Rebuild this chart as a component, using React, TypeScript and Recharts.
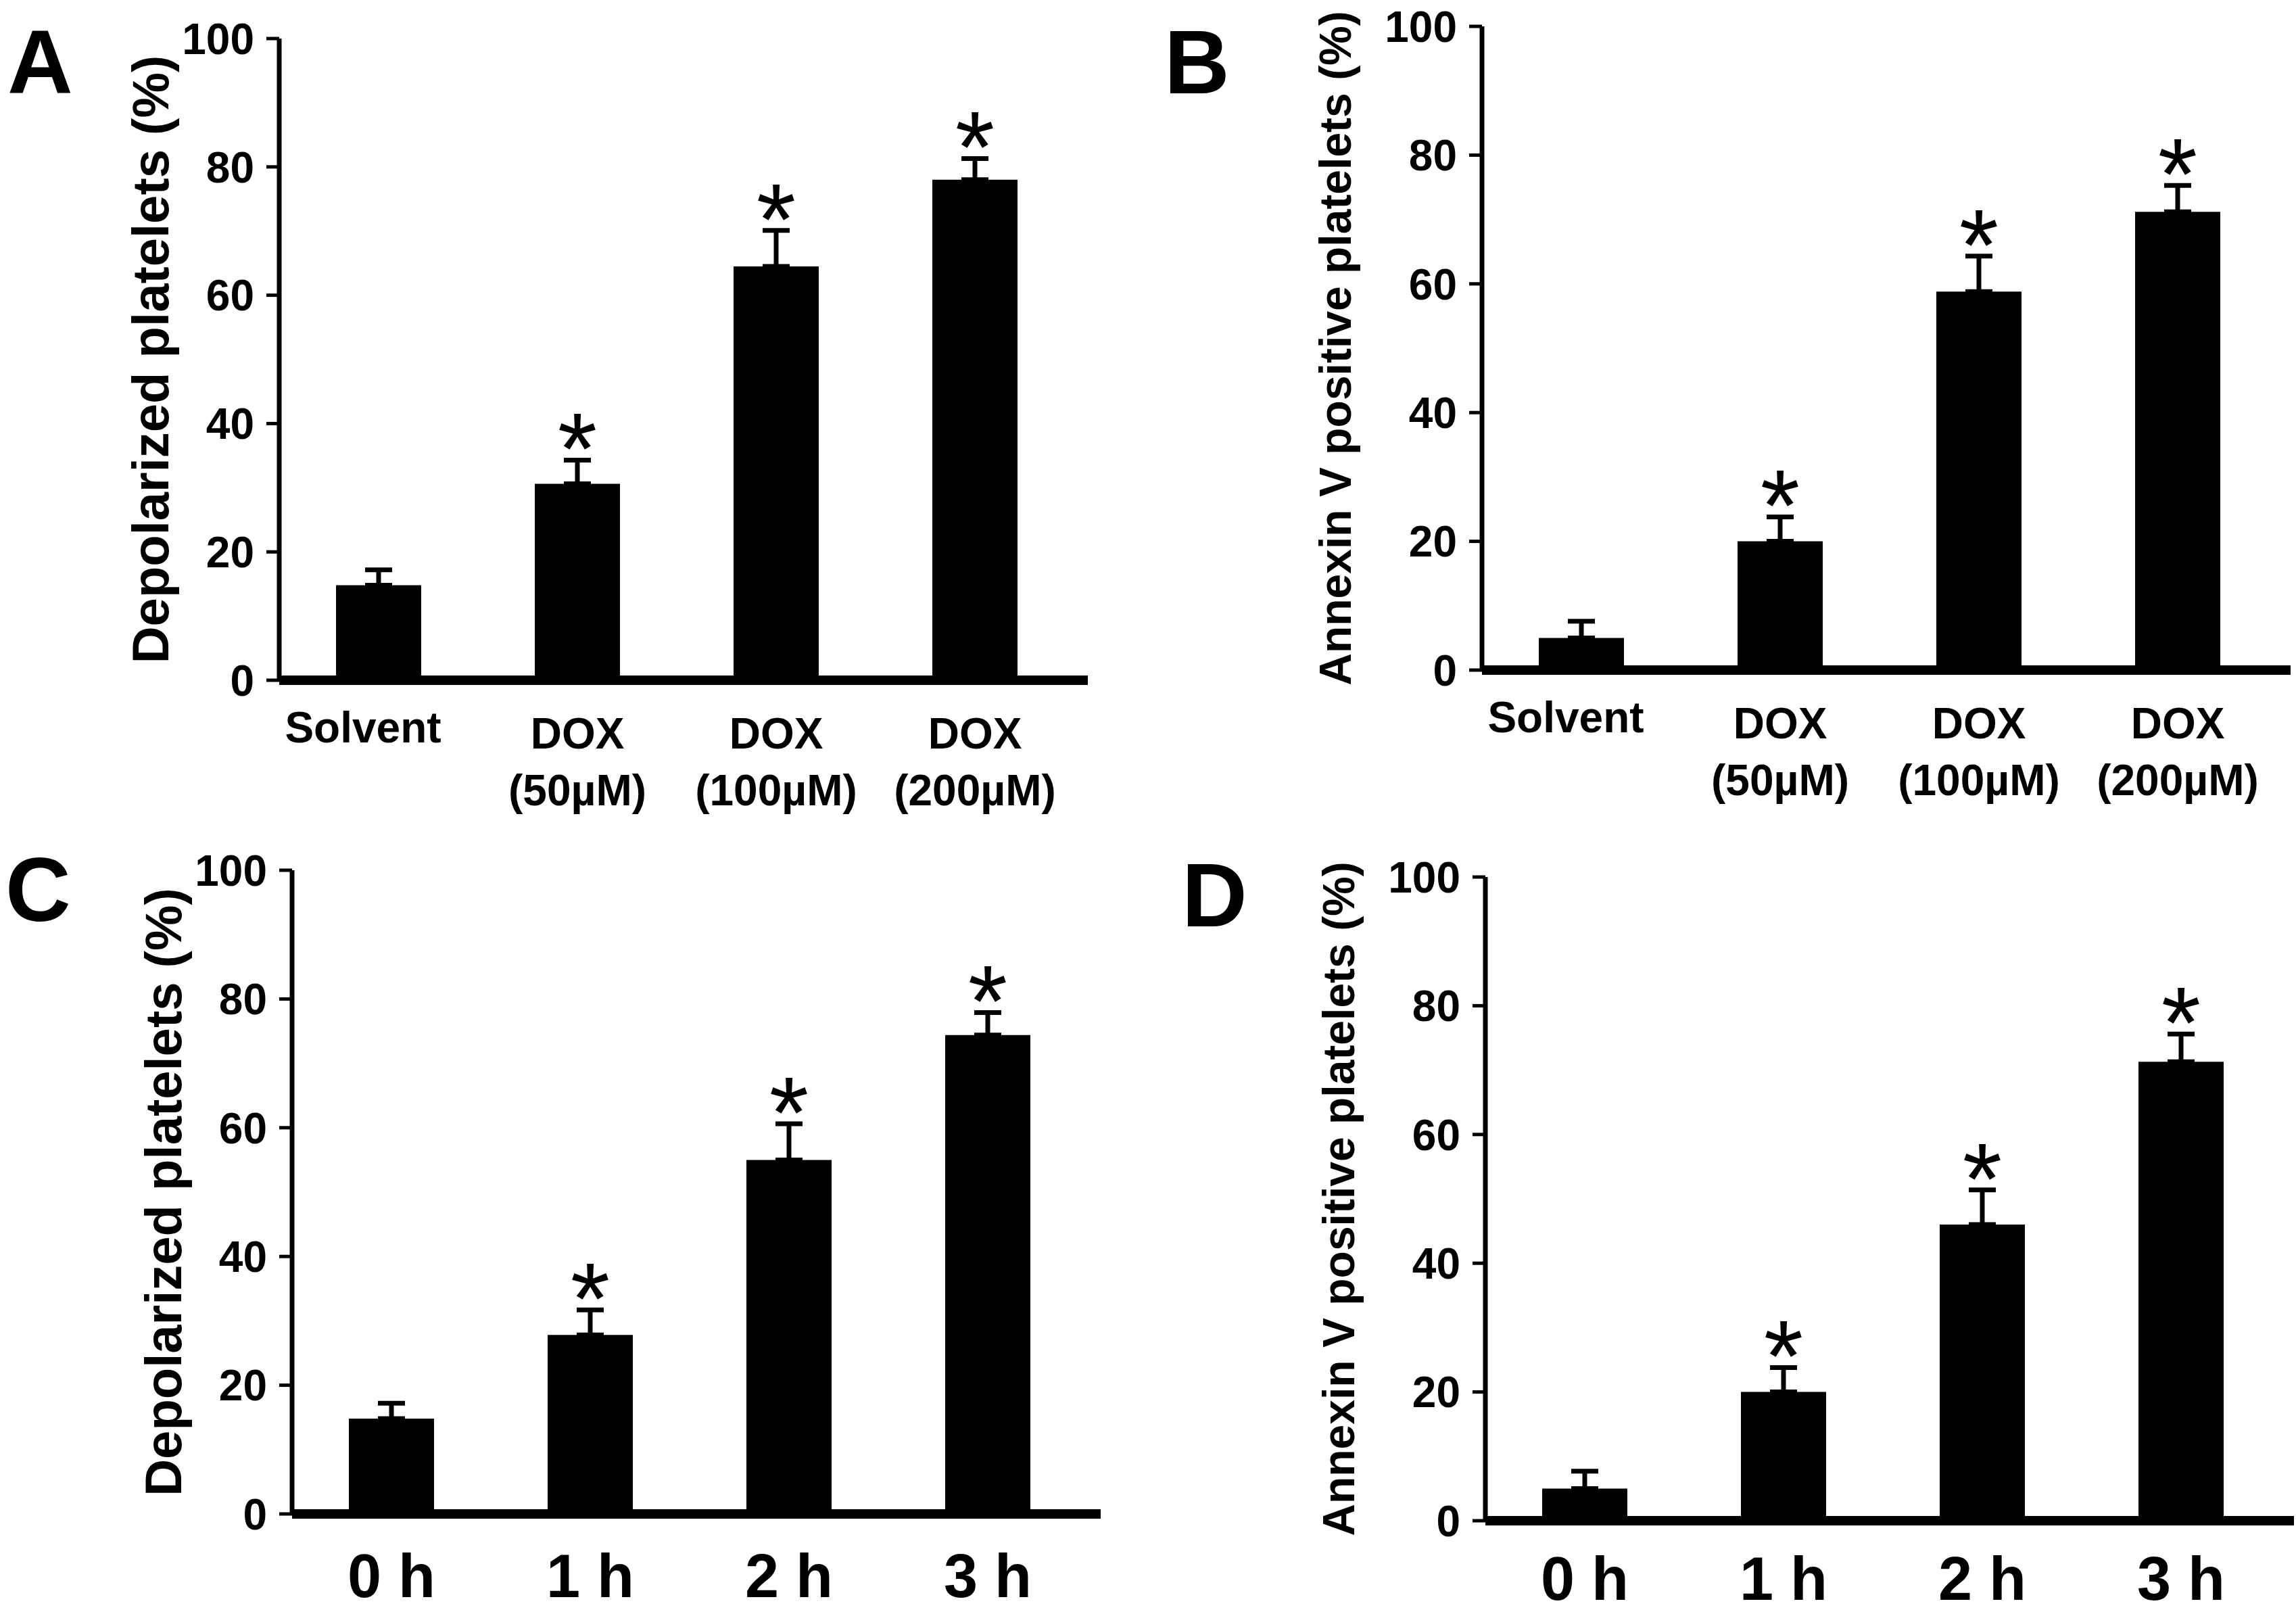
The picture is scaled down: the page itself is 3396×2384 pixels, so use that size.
import React from 'react';
import { BarChart, Bar, XAxis, YAxis, ErrorBar, LabelList, Label } from 'recharts';

// category / tick labels
const doseLabels = ['Solvent', 'DOX\n(50µM)', 'DOX\n(100µM)', 'DOX\n(200µM)'];
const timeLabels = ['0 h', '1 h', '2 h', '3 h'];
const yTicks = [0, 20, 40, 60, 80, 100];
const significant = [false, true, true, true];

// A: depolarized platelets vs. dose
const depolDoseMean = [14.8, 30.6, 64.5, 78.0];
const depolDoseSem = [2.4, 3.7, 5.6, 3.3];
// B: annexin V positive platelets vs. dose
const annexinDoseMean = [5.0, 20.0, 58.8, 71.2];
const annexinDoseSem = [2.6, 3.8, 5.5, 4.1];
// C: depolarized platelets vs. time
const depolTimeMean = [14.8, 27.8, 55.0, 74.4];
const depolTimeSem = [2.4, 3.9, 5.6, 3.5];
// D: annexin V positive platelets vs. time
const annexinTimeMean = [5.0, 20.0, 46.0, 71.3];
const annexinTimeSem = [2.7, 3.8, 5.4, 4.3];

const FONT = "'Liberation Sans', Arial, Helvetica, sans-serif";

const makeRows = (labels: string[], mean: number[], sem: number[]) =>
  labels.map((name, i) => ({ name, value: mean[i], err: [0, sem[i]] }));

// asterisk drawn above the error bar of significant groups
const makeStar = (mean: number[], sem: number[]) => (props: any) => {
  const { index } = props;
  if (!significant[index]) return null;
  const vb = props.viewBox ?? props;
  const { x, y, width, height } = vb;
  const perUnit = height / mean[index];
  const capY = y - sem[index] * perUnit;
  const cx = x + width / 2;
  return (
    <text x={cx} y={capY + 36} textAnchor="middle" fontSize={150} fontFamily={FONT} fill="#000">
      *
    </text>
  );
};

const makeYLabel = (text: string, fontSize: number, offset: number) => (props: any) => {
  const vb = props.viewBox;
  const cx = vb.x + vb.width - offset;
  const cy = vb.y + vb.height / 2;
  return (
    <text
      x={cx}
      y={cy}
      transform={`rotate(-90 ${cx} ${cy})`}
      textAnchor="middle"
      dominantBaseline="central"
      fontSize={fontSize}
      fontWeight="bold"
      fontFamily={FONT}
      fill="#000"
    >
      {text}
    </text>
  );
};

const DoseTick = (props: any) => {
  const { x, y, payload } = props;
  const lines = String(payload.value).split('\n');
  const single = lines.length === 1;
  return (
    <g>
      {lines.map((ln, i) => (
        <text
          key={i}
          x={x + (single ? -23 : 0)}
          y={y + (single ? 92 : 101 + i * 84)}
          textAnchor="middle"
          fontSize={64}
          fontWeight="bold"
          fontFamily={FONT}
          fill="#000"
        >
          {ln}
        </text>
      ))}
    </g>
  );
};

const makeTimeTick = (offset: number) => (props: any) => {
  const { x, y, payload } = props;
  return (
    <text x={x} y={y + offset} textAnchor="middle" fontSize={90} fontWeight="bold" fontFamily={FONT} fill="#000">
      {payload.value}
    </text>
  );
};

interface PanelProps {
  left: number;
  top: number;
  width: number;
  height: number;
  yAxisWidth: number;
  marginTop: number;
  marginRight: number;
  xAxisHeight: number;
  labels: string[];
  mean: number[];
  sem: number[];
  yLabel: string;
  yLabelSize: number;
  yLabelOffset: number;
  tick: (p: any) => React.ReactElement;
}

function Panel(p: PanelProps) {
  const data = makeRows(p.labels, p.mean, p.sem);
  return (
    <div style={{ position: 'absolute', left: p.left, top: p.top }}>
      <BarChart
        width={p.width}
        height={p.height}
        data={data}
        margin={{ top: p.marginTop, right: p.marginRight, left: 0, bottom: 0 }}
      >
        <XAxis
          dataKey="name"
          height={p.xAxisHeight}
          axisLine={{ stroke: '#000', strokeWidth: 14 }}
          tickLine={false}
          tickSize={0}
          tickMargin={0}
          interval={0}
          padding={{ left: 0, right: 20 }}
          tick={p.tick}
        />
        <YAxis
          width={p.yAxisWidth}
          domain={[0, 100]}
          ticks={yTicks}
          interval={0}
          axisLine={{ stroke: '#000', strokeWidth: 7 }}
          tickLine={{ stroke: '#000', strokeWidth: 5 }}
          tickSize={19}
          tickMargin={18}
          tick={{ fontSize: 64, fontWeight: 'bold', fontFamily: FONT, fill: '#000' }}
        >
          <Label content={makeYLabel(p.yLabel, p.yLabelSize, p.yLabelOffset)} />
        </YAxis>
        <Bar dataKey="value" fill="#000" barSize={126} isAnimationActive={false}>
          <ErrorBar dataKey="err" width={20} strokeWidth={7} stroke="#000" direction="y" />
          <LabelList dataKey="value" content={makeStar(p.mean, p.sem)} />
        </Bar>
      </BarChart>
    </div>
  );
}

const letterStyle = { fontSize: 134, fontWeight: 'bold' as const, fontFamily: FONT, fill: '#000' };

export default function App() {
  return (
    <div style={{ position: 'relative', width: 3396, height: 2384, background: '#fff', overflow: 'hidden' }}>
      <style>{'body{margin:0;background:#fff}'}</style>
      <Panel
        left={0}
        top={0}
        width={1640}
        height={1220}
        yAxisWidth={413}
        marginTop={57}
        marginRight={31}
        xAxisHeight={214}
        labels={doseLabels}
        mean={depolDoseMean}
        sem={depolDoseSem}
        yLabel="Depolarized platelets (%)"
        yLabelSize={76}
        yLabelOffset={191}
        tick={DoseTick}
      />
      <Panel
        left={1640}
        top={0}
        width={1756}
        height={1215}
        yAxisWidth={552}
        marginTop={39}
        marginRight={8}
        xAxisHeight={224}
        labels={doseLabels}
        mean={annexinDoseMean}
        sem={annexinDoseSem}
        yLabel="Annexin V positive platelets (%)"
        yLabelSize={66}
        yLabelOffset={217}
        tick={DoseTick}
      />
      <Panel
        left={0}
        top={1220}
        width={1640}
        height={1164}
        yAxisWidth={432}
        marginTop={67}
        marginRight={12}
        xAxisHeight={145}
        labels={timeLabels}
        mean={depolTimeMean}
        sem={depolTimeSem}
        yLabel="Depolarized platelets (%)"
        yLabelSize={76}
        yLabelOffset={191}
        tick={makeTimeTick(123)}
      />
      <Panel
        left={1640}
        top={1220}
        width={1756}
        height={1164}
        yAxisWidth={557}
        marginTop={77}
        marginRight={3}
        xAxisHeight={135}
        labels={timeLabels}
        mean={annexinTimeMean}
        sem={annexinTimeSem}
        yLabel="Annexin V positive platelets (%)"
        yLabelSize={66}
        yLabelOffset={217}
        tick={makeTimeTick(117)}
      />
      {/* panel letters */}
      <svg width={3396} height={2384} style={{ position: 'absolute', left: 0, top: 0, pointerEvents: 'none' }}>
        <text x={11} y={138} {...letterStyle}>A</text>
        <text x={1722} y={138} {...letterStyle}>B</text>
        <text x={8} y={1362} {...letterStyle}>C</text>
        <text x={1748} y={1370} {...letterStyle}>D</text>
      </svg>
    </div>
  );
}
